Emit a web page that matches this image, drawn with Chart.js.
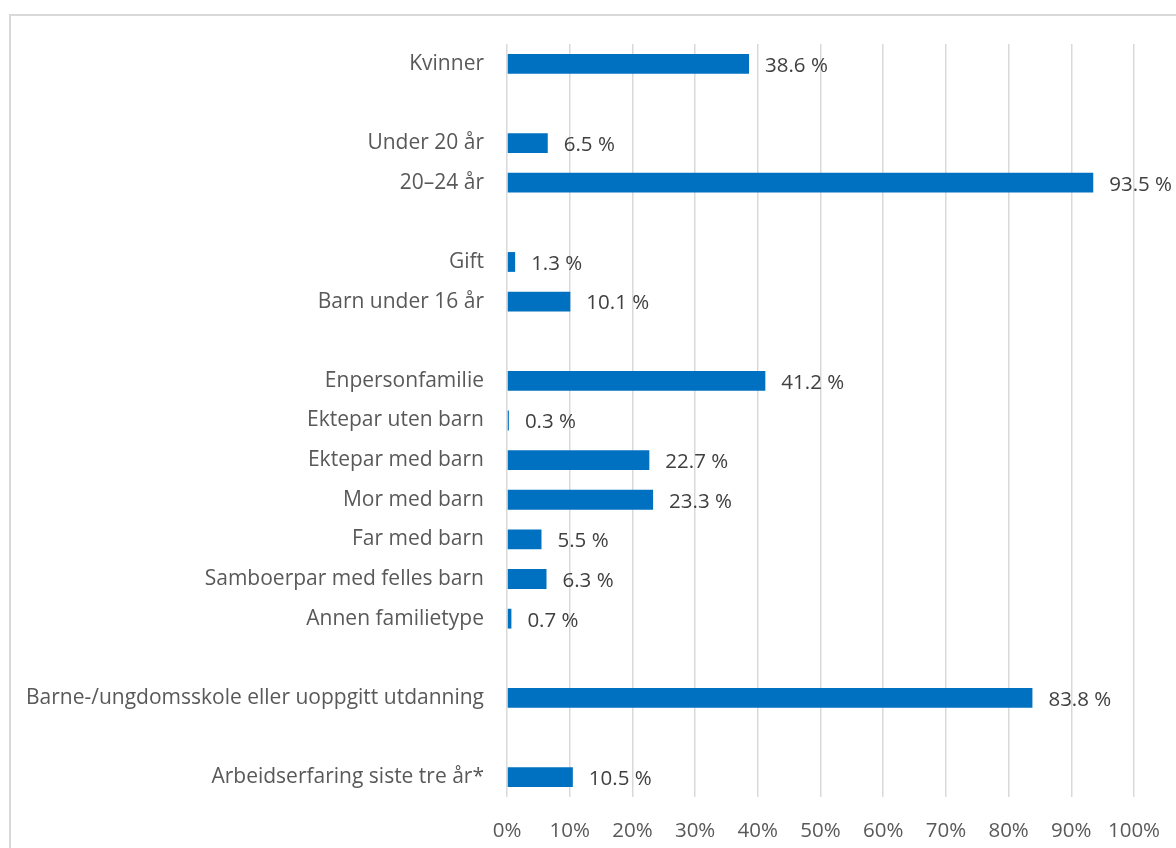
<!DOCTYPE html>
<html>
<head>
<meta charset="utf-8">
<script src="https://cdn.jsdelivr.net/npm/chart.js@4"></script>
<style>
  html, body { margin: 0; padding: 0; background: #fff; overflow: hidden; }
  #wrap { position: relative; width: 1176px; height: 848px; }
  #frame { position: absolute; left: 9px; top: 14px; width: 1300px; height: 1000px;
           border: 2px solid #d9d9d9; box-sizing: border-box; }
  #c { position: absolute; left: 0; top: 0; }
</style>
</head>
<body>
<div id="wrap">
  <div id="frame"></div>
  <canvas id="c" width="1176" height="848"></canvas>
</div>
<script>
// Row labels, with empty rows separating the groups
const categories = [
  "Kvinner",
  "",
  "Under 20 år",
  "20–24 år",
  "",
  "Gift",
  "Barn under 16 år",
  "",
  "Enpersonfamilie",
  "Ektepar uten barn",
  "Ektepar med barn",
  "Mor med barn",
  "Far med barn",
  "Samboerpar med felles barn",
  "Annen familietype",
  "",
  "Barne-/ungdomsskole eller uoppgitt utdanning",
  "",
  "Arbeidserfaring siste tre år*"
];

// Share in percent for each row (null = spacer row)
const shares = [
  38.6,
  null,
  6.5,
  93.5,
  null,
  1.3,
  10.1,
  null,
  41.2,
  0.3,
  22.7,
  23.3,
  5.5,
  6.3,
  0.7,
  null,
  83.8,
  null,
  10.5
];

const xTicks = [0, 10, 20, 30, 40, 50, 60, 70, 80, 90, 100];

const FONT = "'Open Sans', 'Noto Sans', sans-serif";

const valueLabels = {
  id: "valueLabels",
  afterDatasetsDraw(chart) {
    const ctx = chart.ctx;
    const meta = chart.getDatasetMeta(0);
    ctx.save();
    ctx.font = "20.5px " + FONT;
    ctx.fillStyle = "#404040";
    ctx.textAlign = "left";
    ctx.textBaseline = "middle";
    meta.data.forEach((bar, i) => {
      const v = shares[i];
      if (v === null) return;
      ctx.fillText(v.toFixed(1) + " %", bar.x + 16, bar.y + 2);
    });
    ctx.restore();
  }
};

new Chart(document.getElementById("c"), {
  type: "bar",
  data: {
    labels: categories,
    datasets: [{
      data: shares,
      backgroundColor: "#0070C0",
      borderWidth: 0,
      barPercentage: 0.5,
      categoryPercentage: 1.0
    }]
  },
  options: {
    indexAxis: "y",
    responsive: false,
    animation: false,
    layout: { padding: { top: 44, right: 42, left: 0, bottom: 0 } },
    plugins: {
      legend: { display: false },
      tooltip: { enabled: false }
    },
    scales: {
      x: {
        min: 0,
        max: 100,
        afterBuildTicks(scale) { scale.ticks = xTicks.map(v => ({ value: v })); },
        afterFit(scale) {
          scale.height = 51;
          // plot edges are set by the layout padding, not by tick label overhang
          scale.paddingLeft = 0;
          scale.paddingRight = 0;
        },
        border: { display: false },
        grid: { color: "#d9d9d9", lineWidth: 1.5, drawTicks: false },
        ticks: {
          padding: 22,
          color: "#595959",
          font: { family: FONT, size: 20.5 },
          callback: v => v + "%"
        }
      },
      y: {
        afterFit(scale) { scale.width = 507; },
        border: { display: false },
        grid: { display: false, drawTicks: false },
        ticks: {
          padding: 23,
          color: "#595959",
          font: { family: FONT, size: 21 },
          autoSkip: false
        }
      }
    }
  },
  plugins: [valueLabels]
});
</script>
</body>
</html>
